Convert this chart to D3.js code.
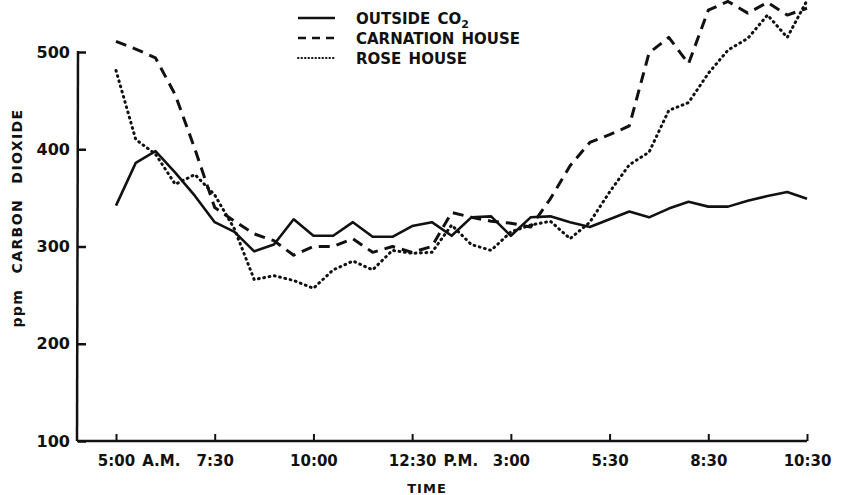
<!DOCTYPE html>
<html>
<head>
<meta charset="utf-8">
<script src="https://cdn.jsdelivr.net/npm/d3@7"></script>
<style>
body { margin: 0; background: #fff; }
svg text { font-family: "DejaVu Sans", sans-serif; font-weight: bold; fill: #111; }
</style>
</head>
<body>
<svg id="drawing_region"></svg>
<script>
// half-hour readings, 5:00 A.M. to 10:30 P.M.
const hours = d3.range(36).map(i => 5 + i * 0.5);

const outside = [342, 386, 398, 376, 352, 325, 315, 295, 302, 328, 311, 311,
  325, 310, 310, 321, 325, 311, 330, 331, 311, 330, 331, 325,
  320, 328, 336, 330, 339, 346, 341, 341, 347, 352, 356, 349];

const carnation = [511, 503, 494, 456, 400, 340, 326, 313, 306, 291, 300, 300,
  308, 294, 300, 294, 300, 335, 330, 326, 324, 320, 349, 383,
  407, 415, 424, 499, 515, 488, 543, 552, 540, 551, 538, 545];

const rose = [481, 410, 395, 364, 374, 353, 318, 266, 270, 265, 257, 276,
  285, 276, 296, 293, 294, 322, 302, 296, 315, 322, 326, 308,
  325, 356, 384, 397, 440, 448, 478, 502, 514, 538, 515, 553];

const tickHours = [5, 7.5, 10, 12.5, 15, 17.5, 20, 22.5];
const tickTimes = ["5:00", "7:30", "10:00", "12:30", "3:00", "5:30", "8:30", "10:30"];
const tickSuffix = ["A.M.", "", "", "P.M.", "", "", "", ""];
const yTicks = [100, 200, 300, 400, 500];

const seriesNames = ["OUTSIDE CO", "CARNATION  HOUSE", "ROSE  HOUSE"];
const seriesDash = [null, "11,7", "0.8,4.6"];

const width = 841, height = 495;
const svg = d3.select('#drawing_region')
  .attr('width', width)
  .attr('height', height);

const xscale = d3.scaleLinear().domain([5, 22.5]).range([116, 807]);
const yscale = d3.scaleLinear().domain([100, 500]).range([441, 52]);

// x axis
const xaxis = d3.axisBottom(xscale)
  .tickValues(tickHours)
  .tickSize(-7)
  .tickPadding(14)
  .tickSizeOuter(0)
  .tickFormat((d, i) => tickTimes[i]);
const xg = svg.append('g')
  .attr('transform', `translate(0, ${yscale(100)})`)
  .call(xaxis);
xg.select('.domain').remove();
xg.selectAll('.tick line').attr('stroke', '#111').attr('stroke-width', 2);
xg.selectAll('.tick text')
  .attr('font-size', 15)
  .attr('font-family', '"DejaVu Sans", sans-serif')
  .each(function(d, i) {
    if (tickSuffix[i]) {
      const t = d3.select(this);
      const w = this.getComputedTextLength();
      t.attr('text-anchor', 'start').attr('x', -w / 2);
      t.append('tspan').attr('dx', 7).text(tickSuffix[i]);
    }
  });
svg.append('line')
  .attr('x1', 77).attr('x2', xscale(22.5))
  .attr('y1', yscale(100)).attr('y2', yscale(100))
  .attr('stroke', '#111').attr('stroke-width', 2.5);

// y axis
const yaxis = d3.axisLeft(yscale)
  .tickValues(yTicks)
  .tickSize(-8)
  .tickPadding(8)
  .tickSizeOuter(0);
const yg = svg.append('g')
  .attr('transform', 'translate(78, 0)')
  .call(yaxis);
yg.select('.domain').remove();
yg.selectAll('.tick line').attr('stroke', '#111').attr('stroke-width', 2.5);
yg.selectAll('.tick text')
  .attr('font-size', 16)
  .attr('font-family', '"DejaVu Sans", sans-serif');
svg.append('line')
  .attr('x1', 78).attr('x2', 77)
  .attr('y1', yscale(500) - 1).attr('y2', yscale(100))
  .attr('stroke', '#111').attr('stroke-width', 2.5);

// axis titles
svg.append('text')
  .attr('x', 427).attr('y', 493)
  .attr('text-anchor', 'middle')
  .attr('font-size', 13)
  .attr('letter-spacing', 1)
  .text('TIME');

svg.append('text')
  .attr('transform', 'translate(22, 218) rotate(-90)')
  .attr('text-anchor', 'middle')
  .attr('font-size', 14)
  .attr('letter-spacing', 1.4)
  .attr('word-spacing', 9)
  .text('ppm CARBON DIOXIDE');

// lines
const line = d3.line()
  .x((d, i) => xscale(hours[i]))
  .y(d => yscale(d));

const allSeries = [outside, carnation, rose];
const widths = [2.6, 3, 3];
allSeries.forEach((s, k) => {
  svg.append('path')
    .datum(s)
    .attr('d', line)
    .attr('fill', 'none')
    .attr('stroke', '#111')
    .attr('stroke-width', widths[k])
    .attr('stroke-linejoin', 'round')
    .attr('stroke-linecap', k == 2 ? 'round' : 'butt')
    .attr('stroke-dasharray', seriesDash[k]);
});

// legend
const legend = svg.append('g').attr('transform', 'translate(298, 18)');
seriesNames.forEach((name, k) => {
  legend.append('line')
    .attr('x1', 0).attr('x2', 37)
    .attr('y1', k * 20).attr('y2', k * 20)
    .attr('stroke', '#111')
    .attr('stroke-width', k == 2 ? 2 : 2.4)
    .attr('stroke-linecap', k == 2 ? 'round' : 'butt')
    .attr('stroke-dasharray', k == 1 ? '8,6' : (k == 2 ? '0.5,3' : null));
  const t = legend.append('text')
    .attr('x', 58).attr('y', k * 20 + 6)
    .attr('font-size', 15)
    .attr('word-spacing', 2)
    .text(name);
  if (k == 0) {
    t.append('tspan').attr('dy', 4).attr('font-size', 11).text('2');
  }
});
</script>
</body>
</html>
